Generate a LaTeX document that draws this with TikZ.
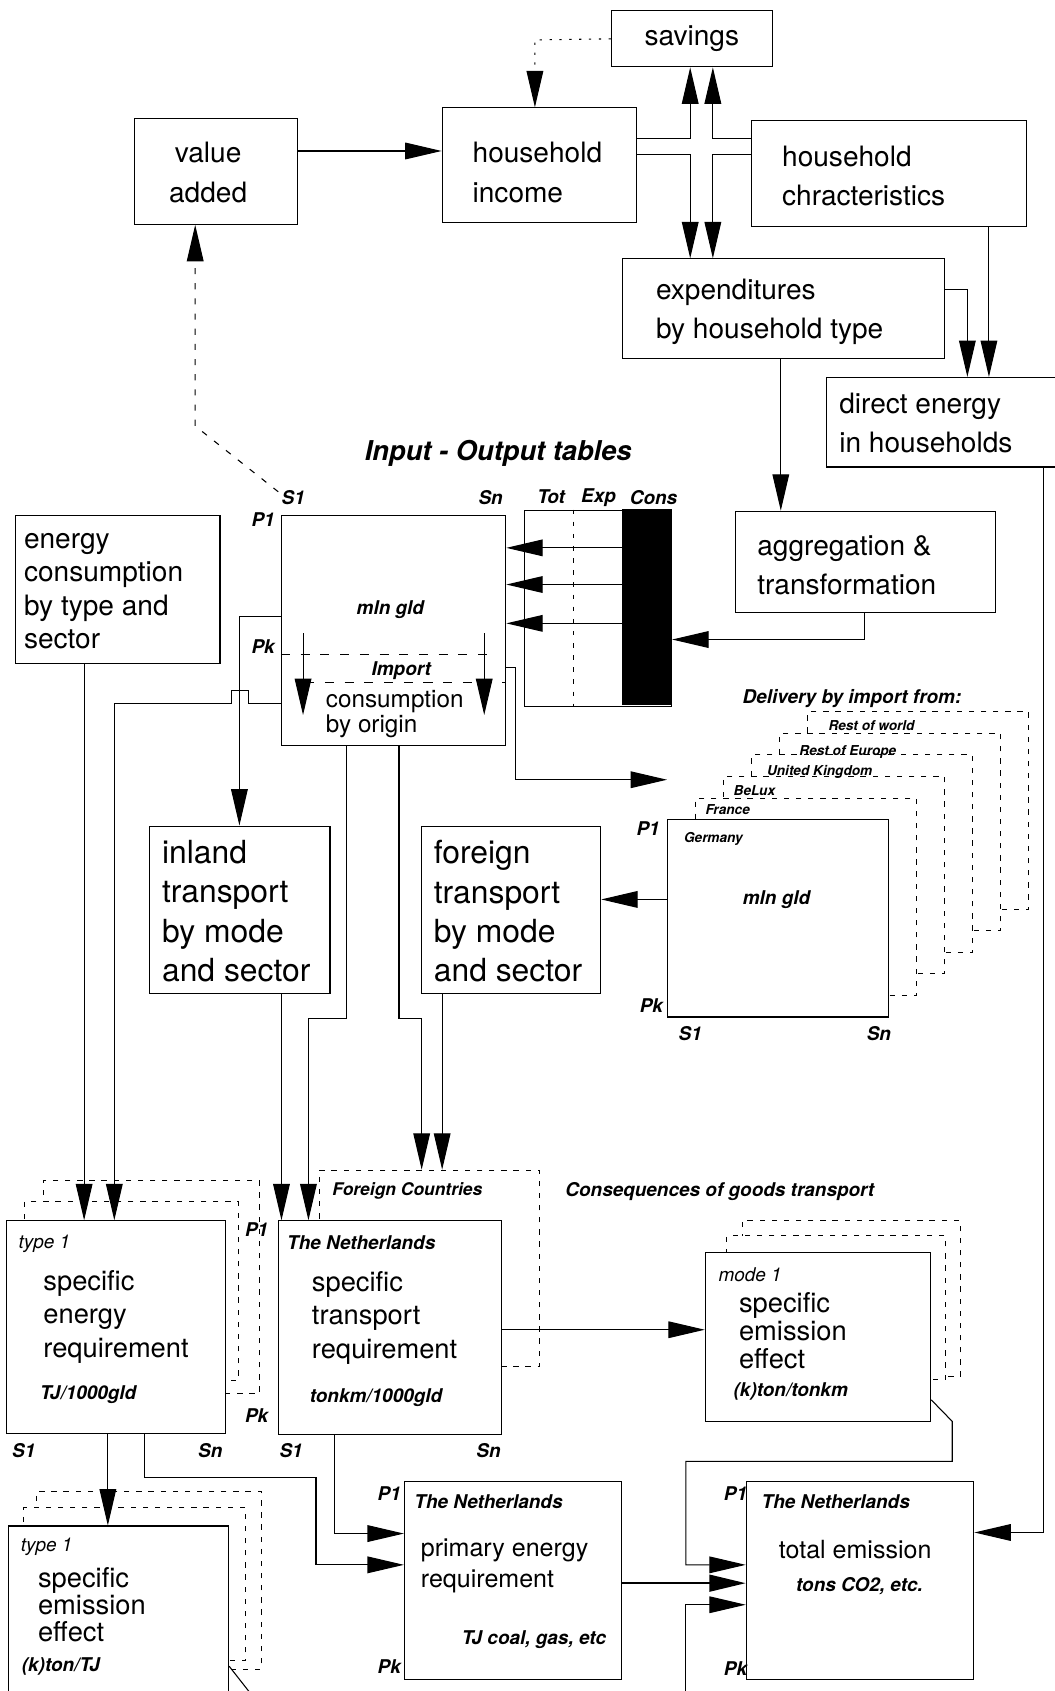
\documentclass[tikz,border=0pt]{standalone}
\usepackage{fontspec}
\setmainfont{TeX Gyre Heros}
\usetikzlibrary{fit, arrows.meta}

\begin{document}
\begin{tikzpicture}[
  x=0.025cm, y=-0.025cm,
  box/.style={
    draw,
    line width=0.7pt,
    inner sep=0pt,
    fill=white
  },
  ghost/.style={
    draw,
    dash pattern=on 3.5pt off 4.5pt,
    line width=0.6pt,
    inner sep=0pt,
    fill=white
  },
  big/.style={
    font=\fontsize{18.5}{26}\selectfont,
    align=left,
    inner sep=0pt,
    anchor=west
  },
  tag/.style={
    font=\fontsize{12.5}{14}\selectfont\bfseries\itshape,
    inner sep=0pt
  },
  tiny/.style={
    font=\fontsize{9}{10}\selectfont\bfseries\itshape,
    inner sep=0pt,
    anchor=west
  },
  kind/.style={
    font=\fontsize{12.5}{14}\selectfont\itshape,
    inner sep=0pt,
    anchor=west
  },
  link/.style={line width=0.7pt},
  flow/.style={
    -{Triangle[length=24pt,width=11pt]},
    line width=0.7pt
  }
]
\useasboundingbox (0,0) rectangle (978,1568);

% household part
\node(sav)[fit={(567,10)(716,62)}, box] {};
\node(va)[fit={(125,110)(276,208)}, box] {};
\node(hi)[fit={(410,100)(590,206)}, box] {};
\node(hc)[fit={(697,112)(952,210)}, box] {};
\node(exp)[fit={(577,240)(876,332)}, box] {};
\node(de)[fit={(766,350)(990,433)}, box] {};

\node(savt)[big, anchor=center] at (sav) {savings};
\node(vat)[big, align=center, anchor=center] at (193,160) {value\\added};
\node(hit)[big] at (438,160) {household\\income};
\node(hct)[big] at (725,163) {household\\chracteristics};
\node(expt)[big] at (608,289) {expenditures\\by household type};
\node(det)[big] at (778,392) {direct energy\\in households};

% input-output tables
\node(iot)[font=\fontsize{18}{20}\selectfont\bfseries\itshape] at (462,420) {Input - Output tables};
\node(io)[fit={(261,478)(469,691)}, box] {};
\node(tec)[fit={(486,473)(623,655)}, box] {};
\node(cons)[fit={(577,472)(623,654)}, fill=black, inner sep=0pt] {};
\draw[link, dash pattern=on 3pt off 5pt] (532,0 |- tec.north) -- (532,0 |- tec.south);
\draw[link, dash pattern=on 6pt off 7pt] (io.west |- 0,607) -- (455,607);
\draw[link, dash pattern=on 6pt off 7pt] (283,633) -- (io.east |- 0,633);

\node(ios1)[tag] at (272,461) {S1};
\node(iosn)[tag] at (455,461) {Sn};
\node(iop1)[tag] at (244,482) {P1};
\node(iopk)[tag] at (244,600) {Pk};
\node(tot)[tag] at (511,461) {Tot};
\node(exl)[tag] at (555,461) {Exp};
\node(col)[tag] at (606,461) {Cons};
\node(mln)[tag] at (362,565) {mln gld};
\node(imp)[tag] at (372,622) {Import};
\node(cbo)[big, font=\fontsize{16}{16.5}\selectfont] at (302,662) {consumption\\by origin};

\node(agg)[fit={(682,474)(923,568)}, box] {};
\node(aggt)[big] at (702,524) {aggregation \&\\transformation};

\node(ec)[fit={(14,478)(204,615)}, box] {};
\node(ect)[big, font=\fontsize{18.5}{22}\selectfont] at (22,548) {energy\\consumption\\by type and\\sector};

\node(inl)[fit={(139,766)(306,921)}, box] {};
\node(frn)[fit={(391,766)(557,921)}, box] {};
\node(inlt)[big, font=\fontsize{21}{26}\selectfont] at (150,845) {inland\\transport\\by mode\\and sector};
\node(frnt)[big, font=\fontsize{21}{26}\selectfont] at (402,845) {foreign\\transport\\by mode\\and sector};

% import by country
\node(dlv)[tag] at (790,648) {Delivery by import from:};
\foreach \k in {5,4,...,1}
  \node(c\k)[fit={(619+26*\k,760-20*\k)(824+26*\k,943-20*\k)}, ghost] {};
\node(ger)[fit={(619,760)(824,943)}, box] {};
\node(frl)[tiny] at (654,751) {France};
\node(bll)[tiny] at (680,733) {BeLux};
\node(ukl)[tiny] at (711,716) {United Kingdom};
\node(rel)[tiny] at (741,697) {Rest of Europe};
\node(rwl)[tiny] at (768,673) {Rest of world};
\node(gerl)[tiny] at (634,778) {Germany};
\node(germ)[tag] at (720,834) {mln gld};
\node(gp1)[tag] at (601,768) {P1};
\node(gpk)[tag] at (604,932) {Pk};
\node(gs1)[tag] at (640,958) {S1};
\node(gsn)[tag] at (815,958) {Sn};

% coefficients
\node(t1b)[fit={(40,1095)(241,1292)}, ghost] {};
\node(t1a)[fit={(23,1114)(221,1280)}, ghost] {};
\node(t1)[fit={(6,1132)(209,1329)}, box] {};
\node(fc)[fit={(296,1085)(500,1267)}, ghost] {};
\node(nl)[fit={(258,1132)(465,1330)}, box] {};
\node(m1b)[fit={(688,1132)(891,1276)}, ghost] {};
\node(m1a)[fit={(674,1146)(877,1279)}, ghost] {};
\node(m1)[fit={(654,1161)(863,1318)}, box] {};
\node(e1b)[fit={(34,1383)(242,1548)}, ghost] {};
\node(e1a)[fit={(22,1398)(228,1540)}, ghost] {};
\node(e1)[fit={(8,1415)(212,1585)}, box] {};
\node(pe)[fit={(375,1374)(576,1557)}, box] {};
\node(te)[fit={(692,1374)(903,1557)}, box] {};

\node(t1k)[kind] at (17,1153) {type 1};
\node(t1t)[big, font=\fontsize{18}{22}\selectfont] at (40,1221) {specific\\energy\\requirement};
\node(t1u)[tag, anchor=west] at (37,1293) {TJ/1000gld};
\node(t1s1)[tag] at (22,1345) {S1};
\node(t1sn)[tag] at (195,1345) {Sn};

\node(fct)[tag, anchor=west, font=\fontsize{11.5}{13}\selectfont\bfseries\itshape] at (308,1104) {Foreign Countries};
\node(nlk)[tag, anchor=west] at (266,1152) {The Netherlands};
\node(nlt)[big, font=\fontsize{18}{22}\selectfont] at (289,1222) {specific\\transport\\requirement};
\node(nlu)[tag, anchor=west] at (287,1296) {tonkm/1000gld};
\node(nlp1)[tag] at (238,1140) {P1};
\node(nlpk)[tag] at (238,1313) {Pk};
\node(nls1)[tag] at (270,1345) {S1};
\node(nlsn)[tag] at (453,1345) {Sn};

\node(cgt)[tag, anchor=west] at (524,1105) {Consequences of goods transport};
\node(m1k)[kind] at (666,1182) {mode 1};
\node(m1t)[big, font=\fontsize{18}{18.5}\selectfont] at (685,1234) {specific\\emission\\effect};
\node(m1u)[tag, anchor=west] at (680,1290) {(k)ton/tonkm};

\node(e1k)[kind] at (19,1434) {type 1};
\node(e1t)[big, font=\fontsize{18}{18}\selectfont] at (35,1488) {specific\\emission\\effect};
\node(e1u)[tag, anchor=west] at (20,1545) {(k)ton/TJ};

\node(pek)[tag, anchor=west] at (384,1392) {The Netherlands};
\node(pet)[big, font=\fontsize{16.5}{21}\selectfont] at (390,1452) {primary energy\\requirement};
\node(peu)[tag, anchor=west] at (428,1520) {TJ coal, gas, etc};
\node(pep1)[tag] at (361,1385) {P1};
\node(pepk)[tag] at (361,1545) {Pk};

\node(tek)[tag, anchor=west] at (706,1392) {The Netherlands};
\node(tet)[big, anchor=center, font=\fontsize{16.5}{20}\selectfont] at (793,1437) {total emission};
\node(teu)[tag] at (797,1471) {tons CO2, etc.};
\node(tep1)[tag] at (682,1385) {P1};
\node(tepk)[tag] at (682,1547) {Pk};

% connectors
\draw[flow] (va.east |- 0,140) -- (hi.west |- 0,140);
\draw[flow, dash pattern=on 1.5pt off 5pt] (sav.west) -- (496,37) -- (496,0 |- hi.north);
\draw[flow] (hi.east |- 0,128) -- (640,128) -- (640,0 |- sav.south);
\draw[flow] (hi.east |- 0,143) -- (640,143) -- (640,0 |- exp.north);
\draw[flow] (hc.west |- 0,128) -- (661,128) -- (661,0 |- sav.south);
\draw[flow] (hc.west |- 0,143) -- (661,143) -- (661,0 |- exp.north);
\draw[flow] (917,0 |- hc.south) -- (917,0 |- de.north);
\draw[flow] (exp.east |- 0,268) -- (897,268) -- (897,0 |- de.north);
\draw[flow] (724,0 |- exp.south) -- (724,0 |- agg.north);
\draw[flow, dash pattern=on 4pt off 6pt] (258,456) -- (181,395) -- (181,0 |- va.south);
\draw[flow] (968,0 |- de.south) -- (968,1421) -- (te.east |- 0,1421);

\draw[flow] (281,587) -- (281,663);
\draw[flow] (449,587) -- (449,663);
\foreach \y in {508,542,578}
  \draw[flow] (cons.west |- 0,\y) -- (io.east |- 0,\y);
\draw[flow] (802,0 |- agg.south) -- (802,593) -- (cons.east |- 0,593);
\draw[flow] (io.east |- 0,619) -- (478,619) -- (478,723) -- (ger.west |- 0,723);
\draw[flow] (ger.west |- 0,834) -- (frn.east |- 0,834);

\draw[flow] (78,0 |- ec.south) -- (78,0 |- t1.north);
\draw[flow] (io.west |- 0,572) -- (222,572) -- (222,0 |- inl.north);
\draw[flow] (io.west |- 0,652) -- (230,652) -- (230,640) -- (215,640) -- (215,652) -- (106,652) -- (106,0 |- t1.north);
\draw[flow] (321,0 |- io.south) -- (321,944) -- (286,944) -- (286,0 |- nl.north);
\draw[flow] (370,0 |- io.south) -- (370,944) -- (391,944) -- (391,0 |- fc.north);
\draw[flow] (261,0 |- inl.south) -- (261,0 |- nl.north);
\draw[flow] (410,0 |- frn.south) -- (410,0 |- fc.north);

\draw[flow] (nl.east |- 0,1233) -- (m1.west |- 0,1233);
\draw[flow] (m1.east |- 0,1298) -- (883,1318) -- (883,1355) -- (636,1355) -- (636,1451) -- (te.west |- 0,1451);
\draw[flow] (100,0 |- t1.south) -- (100,0 |- e1.north);
\draw[flow] (134,0 |- t1.south) -- (134,1370) -- (293,1370) -- (293,1451) -- (pe.west |- 0,1451);
\draw[flow] (310,0 |- nl.south) -- (310,1422) -- (pe.west |- 0,1422);
\draw[flow, line width=1.6pt] (pe.east |- 0,1468) -- (te.west |- 0,1468);
\draw[flow] (636,1575) -- (636,1488) -- (te.west |- 0,1488);
\draw[link] (e1.east |- 0,1545) -- (236,1575);

\end{tikzpicture}
\end{document}
